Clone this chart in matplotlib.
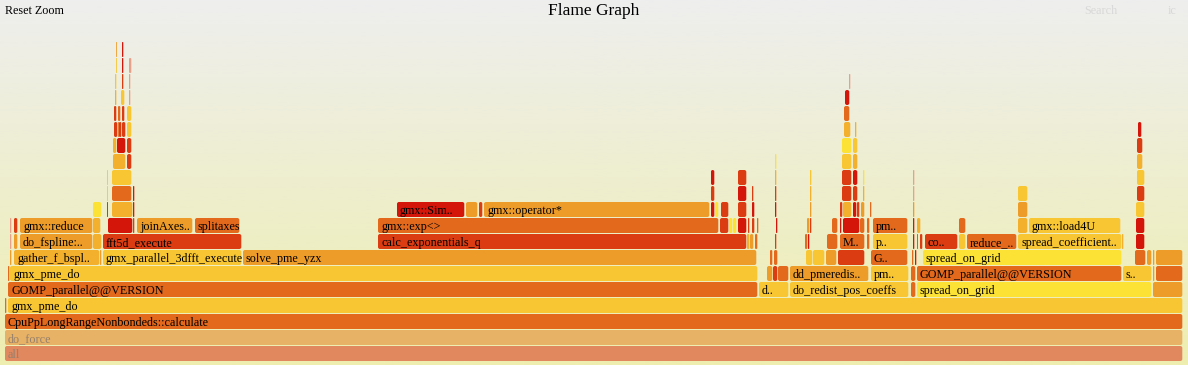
import numpy as np
import matplotlib
matplotlib.use("Agg")
import matplotlib.pyplot as plt
from matplotlib.patches import FancyBboxPatch

# frames per stack depth: (start sample, width in samples, label, colour key)
level_0 = [(0, 1178, 'all', 'all')]
level_1 = [(0, 1178, 'do_force', 'df')]
level_2 = [(0, 1178, 'CpuPpLongRangeNonbondeds::calculate', 'O')]
level_3 = [(0, 2, '', 'O'), (3, 1175, 'gmx_pme_do', 'Y')]
level_4 = [(3, 750, 'GOMP_parallel@@VERSION', 'O'), (754, 30, 'd..', 'Y'),
           (785, 119, 'do_redist_pos_coeffs', 'Y'), (906, 5, '', 'O'),
           (912, 235, 'spread_on_grid', 'BY'), (1148, 30, '', 'LO')]
level_5 = [(3, 2, '', 'O'), (5, 748, 'gmx_pme_do', 'Y'), (762, 6, '', 'LO'),
           (768, 5, '', 'DR'), (773, 11, '', 'O'), (785, 79, 'dd_pmeredis..', 'LO'),
           (866, 38, 'pm..', 'Y'), (906, 5, '', 'O'),
           (912, 205, 'GOMP_parallel@@VERSION', 'O'), (1118, 29, 's..', 'Y'),
           (1148, 2, '', 'LO'), (1151, 27, '', 'O')]
level_6 = [(5, 2, '', 'LO'), (9, 86, 'gather_f_bspl..', 'A'), (95, 2, '', 'LO'),
           (98, 139, 'gmx_parallel_3dfft_execute', 'Y'), (238, 514, 'solve_pme_yzx', 'LO'),
           (765, 3, '', 'O'), (769, 4, '', 'O'), (801, 7, '', 'Y'), (808, 12, '', 'Y'),
           (821, 11, '', 'LO'), (833, 27, '', 'DR'), (866, 37, 'G..', 'O'),
           (907, 2, '', 'O'), (910, 2, '', 'R'), (918, 199, 'spread_on_grid', 'BY'),
           (1130, 11, '', 'O'), (1142, 5, '', 'LO'), (1148, 2, '', 'LO'), (1151, 27, '', 'LO')]
level_7 = [(5, 2, '', 'P'), (9, 4, '', 'LO'), (15, 73, 'do_fspline:..', 'LO'), (88, 9, '', 'A'),
           (98, 139, 'fft5d_execute', 'DR'), (373, 369, 'calc_exponentials_q', 'DR'),
           (742, 3, '', 'A'), (745, 4, '', 'LO'), (750, 3, '', 'O'), (770, 2, '', 'DR'),
           (800, 3, '', 'O'), (803, 2, '', 'R'), (822, 11, '', 'O'), (835, 25, 'M..', 'O'),
           (862, 3, '', 'O'), (868, 35, 'p..', 'Y'), (908, 2, '', 'R'), (912, 1, '', 'DR'),
           (915, 3, '', 'DR'), (920, 33, 'co..', 'DR'), (954, 7, '', 'Y'),
           (962, 50, 'reduce_..', 'O'), (1013, 104, 'spread_coefficient..', 'Y'),
           (1117, 2, '', 'A'), (1131, 9, '', 'R')]
level_8 = [(5, 2, '', 'P'), (9, 4, '', 'DR'), (15, 73, 'gmx::reduce', 'LO'), (88, 8, '', 'A'),
           (103, 25, '', 'R'), (128, 2, '', 'DR'), (132, 56, 'joinAxes..', 'LO'),
           (190, 45, 'splitaxes', 'O'), (373, 341, 'gmx::exp<>', 'O'), (715, 9, '', 'DR'),
           (724, 4, '', 'BY'), (728, 4, '', 'BY'), (733, 9, '', 'R'), (743, 2, '', 'DR'),
           (747, 3, '', 'DR'), (752, 2, '', 'O'), (771, 2, '', 'R'), (802, 3, '', 'LO'),
           (805, 2, '', 'DR'), (827, 6, '', 'O'), (835, 2, '', 'R'), (838, 17, '', 'R'),
           (855, 5, '', 'O'), (862, 3, '', 'O'), (868, 35, 'pm..', 'O'), (908, 2, '', 'R'),
           (912, 4, '', 'A'), (954, 7, '', 'O'), (1013, 10, '', 'A'),
           (1024, 92, 'gmx::load4U', 'Y'), (1131, 9, '', 'R')]
level_9 = [(88, 9, '', 'BY'), (102, 1, '', 'R'), (107, 21, '', 'A'), (128, 2, '', 'R'),
           (392, 68, 'gmx::Sim..', 'R'), (461, 12, '', 'LO'), (474, 4, '', 'DR'),
           (479, 226, 'gmx::operator*', 'LO'), (706, 4, '', 'R'), (710, 4, '', 'BY'),
           (716, 8, '', 'DR'), (733, 9, '', 'DR'), (747, 3, '', 'R'), (770, 2, '', 'R'),
           (805, 2, '', 'LO'), (835, 3, '', 'DR'), (838, 9, '', 'A'), (848, 4, '', 'R'),
           (852, 3, '', 'DR'), (856, 4, '', 'LO'), (865, 2, '', 'O'), (908, 2, '', 'LO'),
           (1013, 10, '', 'LO'), (1131, 9, '', 'Y')]
level_10 = [(102, 1, '', 'Y'), (107, 20, '', 'O'), (128, 2, '', 'R'), (706, 4, '', 'DR'),
            (733, 9, '', 'R'), (747, 2, '', 'DR'), (770, 2, '', 'DR'), (805, 2, '', 'A'),
            (837, 10, '', 'DR'), (848, 5, '', 'DR'), (858, 2, '', 'A'), (908, 2, '', 'P'),
            (1013, 10, '', 'Y'), (1132, 8, '', 'DR')]
level_11 = [(102, 1, '', 'Y'), (107, 20, '', 'Y'), (706, 4, '', 'R'), (733, 9, '', 'DR'),
            (770, 2, '', 'A'), (805, 2, '', 'Y'), (837, 10, '', 'DR'), (848, 5, '', 'R'),
            (858, 2, '', 'BY'), (908, 2, '', 'P'), (1132, 8, '', 'Y')]
level_12 = [(108, 13, '', 'A'), (122, 5, '', 'DR'), (770, 2, '', 'BY'), (837, 10, '', 'Y'),
            (848, 5, '', 'A'), (1132, 6, '', 'A')]
level_13 = [(108, 4, '', 'A'), (112, 9, '', 'R'), (122, 5, '', 'DR'), (837, 10, '', 'BY'),
            (848, 5, '', 'Y'), (1132, 6, '', 'DR')]
level_14 = [(109, 4, '', 'DR'), (113, 1, '', 'O'), (114, 3, '', 'DR'), (117, 4, '', 'DR'),
            (122, 5, '', 'Y'), (839, 7, '', 'A'), (850, 2, '', 'A'), (1133, 4, '', 'R')]
level_15 = [(109, 3, '', 'DR'), (113, 3, '', 'O'), (117, 3, '', 'DR'), (122, 5, '', 'Y'),
            (839, 6, '', 'O')]
level_16 = [(110, 2, '', 'A'), (116, 4, '', 'Y'), (124, 2, '', 'P'), (840, 5, '', 'R')]
level_17 = [(110, 2, '', 'Y'), (117, 2, '', 'DR'), (124, 2, '', 'P'), (844, 2, '', 'P')]
level_18 = [(111, 1, '', 'Y'), (117, 2, '', 'R'), (124, 3, '', 'P')]
level_19 = [(111, 1, '', 'LO'), (117, 2, '', 'R')]

levels = [level_0, level_1, level_2, level_3, level_4, level_5, level_6, level_7,
          level_8, level_9, level_10, level_11, level_12, level_13, level_14,
          level_15, level_16, level_17, level_18, level_19]

# colours of the "hot" palette
palette = {
    'all': '#e1885f', 'df': '#e8b266',
    'R': '#d4160a', 'DR': '#db3c12', 'O': '#e3691d', 'LO': '#ee9c29',
    'A': '#f3b02d', 'Y': '#f8c632', 'BY': '#fde236', 'P': '#e8a08a',
}

W, H = 1188, 365
fig = plt.figure(figsize=(W / 100, H / 100), dpi=100)
ax = fig.add_axes([0, 0, 1, 1])
x0 = -5           # left margin in samples
ax.set_xlim(x0, W + x0)
ax.set_ylim(H, 0)
ax.axis('off')

# background gradient
grad = np.linspace(0, 1, 256)[:, None]
top = np.array([0xee, 0xee, 0xee]) / 255
bot = np.array([0xee, 0xee, 0xb0]) / 255
img = top[None, None, :] * (1 - grad[:, :, None]) + bot[None, None, :] * grad[:, :, None]
ax.imshow(img, extent=(x0, W + x0, H, 0), aspect='auto', zorder=0)

row_h = 16
base = 346  # top of depth-0 row

serif = ['Liberation Serif', 'DejaVu Serif']
for depth, frames in enumerate(levels):
    ytop = base - depth * row_h
    for start, width, name, ck in frames:
        w = width - 0.7 if width > 1.5 else width * 0.85
        r = min(2, w / 2, 7)
        box = FancyBboxPatch((start, ytop), w, row_h - 1,
                             boxstyle=f"round,pad=0,rounding_size={r}",
                             linewidth=0, facecolor=palette[ck], zorder=2)
        ax.add_patch(box)
        if name:
            tc = '#94806c' if depth < 2 else '#000000'
            ax.text(start + 3, ytop + 11.8, name, fontsize=8.7, family=serif,
                    color=tc, va='baseline', ha='left', zorder=3)

ax.text(W / 2 + x0, 15, 'Flame Graph', fontsize=12.5, family=serif,
        ha='center', va='baseline', color='#000000')
ax.text(0, 14, 'Reset Zoom', fontsize=8.7, family=serif, ha='left', va='baseline')
ax.text(1079, 14, 'Search', fontsize=8.7, family=serif, ha='left', va='baseline',
        color='#d8d8d8')
ax.text(1163, 14, 'ic', fontsize=8.7, family=serif, ha='left', va='baseline',
        color='#d8d8d8')

fig.savefig('out.png', dpi=100)
